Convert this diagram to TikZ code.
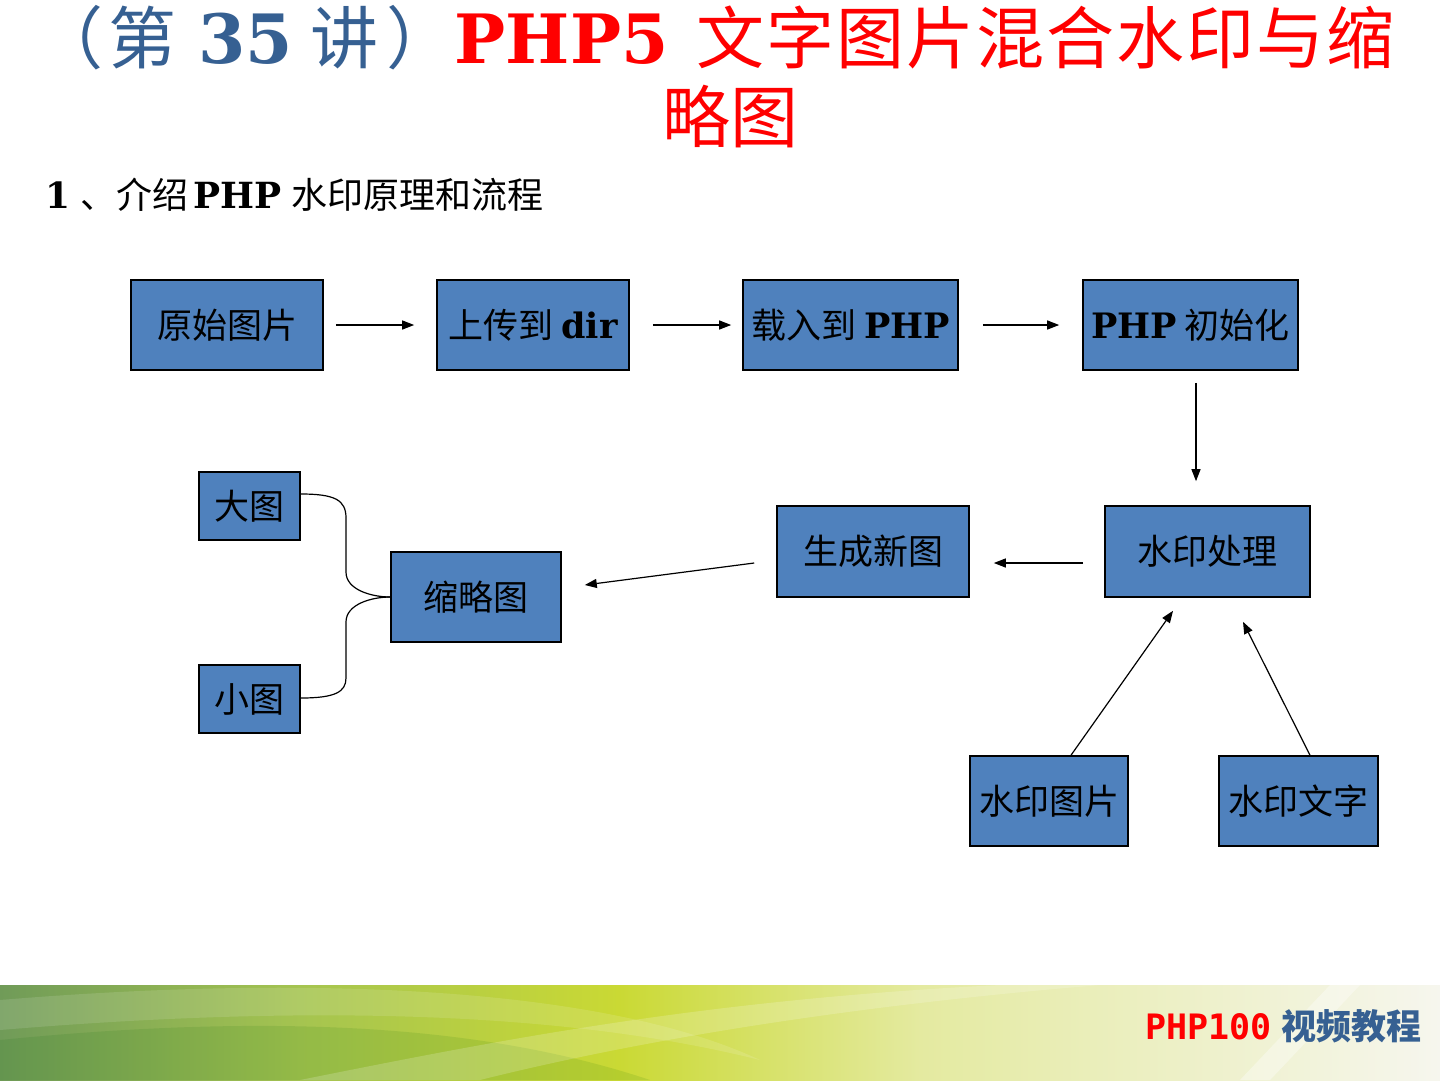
\documentclass[tikz,border=0pt]{standalone}
\usepackage{fontspec}
\setmainfont{DejaVu Serif}
\newfontfamily\cjk{Noto Sans CJK SC}
\newfontfamily\lat{DejaVu Serif}
\newfontfamily\monob{DejaVu Sans Mono}
\usetikzlibrary{arrows.meta}
\definecolor{boxblue}{RGB}{79,129,189}
\definecolor{titleblue}{RGB}{54,96,146}
\definecolor{footblue}{RGB}{54,96,146}
\definecolor{gA}{RGB}{112,155,88}
\definecolor{gB}{RGB}{165,196,80}
\definecolor{gC}{RGB}{202,217,52}
\definecolor{gD}{RGB}{228,234,160}
\definecolor{gE}{RGB}{246,246,238}
\begin{document}
\begin{tikzpicture}[x=1pt,y=-1pt,
  flowbox/.style={draw=black,line width=1.6pt,fill=boxblue,inner sep=0pt,
    font=\cjk\fontsize{35}{38}\selectfont,text=black},
  conn/.style={line width=1.2pt,-{Triangle[length=12pt,width=9pt]}},
  brace/.style={line width=1.2pt}]
\path[use as bounding box,fill=white] (0,0) rectangle (1440,1080);
% footer banner
\shade[left color=gA,right color=gB] (0,985) rectangle (300,1080);
\shade[left color=gB,right color=gC] (299,985) rectangle (620,1080);
\shade[left color=gC,right color=gD] (619,985) rectangle (920,1080);
\shade[left color=gD,right color=gE] (919,985) rectangle (1440,1080);
\begin{scope}
\clip (0,985) rectangle (1440,1080);
\fill[white,opacity=0.12] (0,1000) .. controls (300,975) and (600,985) .. (760,1060) .. controls (560,1010) and (300,1005) .. (0,1030) -- cycle;
\fill[black!60!green,opacity=0.10] (0,1040) .. controls (300,1010) and (500,1030) .. (650,1080) -- (0,1080) -- cycle;
\fill[white,opacity=0.18] (300,1080) .. controls (500,1040) and (700,1000) .. (1000,985) -- (1100,985) .. controls (800,1010) and (600,1050) .. (480,1080) -- cycle;
\fill[white,opacity=0.35] (1240,1080) -- (1330,985) -- (1360,985) -- (1270,1080) -- cycle;
\end{scope}
\node[anchor=base east,inner sep=0pt] (foot) at (1422,1039)
  {\textcolor{red}{\monob\bfseries\fontsize{35}{38}\selectfont PHP100}\hspace{10pt}\textcolor{footblue}{\cjk\bfseries\fontsize{35}{38}\selectfont 视频教程}};
% title
\node[anchor=base west,inner sep=0pt] (title1) at (35,63)
  {\fontsize{68}{80}\selectfont\textcolor{titleblue}{\cjk （\hspace{5pt}第\hspace{22pt}{\lat\bfseries 35}\hspace{18pt}讲\hspace{8pt}）}\textcolor{red}{{\lat\bfseries PHP5}\hspace{28pt}\cjk 文\hspace{2pt}字\hspace{2pt}图\hspace{2pt}片\hspace{2pt}混\hspace{2pt}合\hspace{2pt}水\hspace{2pt}印\hspace{2pt}与\hspace{2pt}缩}};
\node[anchor=base,inner sep=0pt,text=red] (title2) at (730,142)
  {\cjk\fontsize{68}{80}\selectfont 略图};
\node[anchor=base west,inner sep=0pt] (sub) at (45,208)
  {\fontsize{36}{40}\selectfont{\lat\bfseries 1}\hspace{10pt}{\cjk 、介绍}\hspace{5pt}{\lat\bfseries PHP}\hspace{10pt}{\cjk 水印原理和流程}};
% boxes
\node[flowbox,minimum width=192pt,minimum height=90pt] (a) at (227,325) {原始图片};
\node[flowbox,minimum width=192pt,minimum height=90pt] (b) at (533,325) {上传到\hspace{8pt}{\lat\bfseries dir}};
\node[flowbox,minimum width=215pt,minimum height=90pt] (c) at (850.5,325) {载入到\hspace{8pt}{\lat\bfseries PHP}};
\node[flowbox,minimum width=215pt,minimum height=90pt] (d) at (1190.5,325) {{\lat\bfseries PHP}\hspace{8pt}初始化};
\node[flowbox,minimum width=205pt,minimum height=91pt] (e) at (1207.5,551.5) {水印处理};
\node[flowbox,minimum width=192pt,minimum height=91pt] (f) at (873,551.5) {生成新图};
\node[flowbox,minimum width=170pt,minimum height=90pt] (g) at (476,597) {缩略图};
\node[flowbox,minimum width=101pt,minimum height=68pt] (h) at (249.5,506) {大图};
\node[flowbox,minimum width=101pt,minimum height=68pt] (i) at (249.5,699) {小图};
\node[flowbox,minimum width=158pt,minimum height=90pt] (j) at (1049,801) {水印图片};
\node[flowbox,minimum width=159pt,minimum height=90pt] (k) at (1298.5,801) {水印文字};
% connectors
\draw[conn] ([xshift=12pt]a.east) -- ([xshift=-22pt]b.west);
\draw[conn] ([xshift=23pt]b.east) -- ([xshift=-11pt]c.west);
\draw[conn] ([xshift=24pt]c.east) -- ([xshift=-23pt]d.west);
\draw[conn] ([xshift=5.5pt,yshift=-12pt]d.south) -- ([xshift=-11.5pt,yshift=24pt]e.north);
\draw[conn] ([xshift=-21pt,yshift=-11.5pt]e.west) -- ([xshift=24pt,yshift=-11.5pt]f.east);
\draw[conn] ([xshift=-22pt,yshift=-11.5pt]f.west) -- ([xshift=23pt,yshift=12pt]g.east);
\draw[conn] ([xshift=22pt]j.north) -- ([xshift=-34.5pt,yshift=-13pt]e.south);
\draw[conn] ([xshift=11.5pt]k.north) -- ([xshift=35.5pt,yshift=-24pt]e.south);
\draw[brace] ([yshift=12pt]h.east) .. controls (335,494) and (346,500) .. (346,518)
  -- (346,572) .. controls (346,590) and (372,597) .. (g.west);
\draw[brace] ([yshift=1pt]i.east) .. controls (335,698) and (346,692) .. (346,678)
  -- (346,622) .. controls (346,604) and (372,597) .. (g.west);
\end{tikzpicture}
\end{document}
